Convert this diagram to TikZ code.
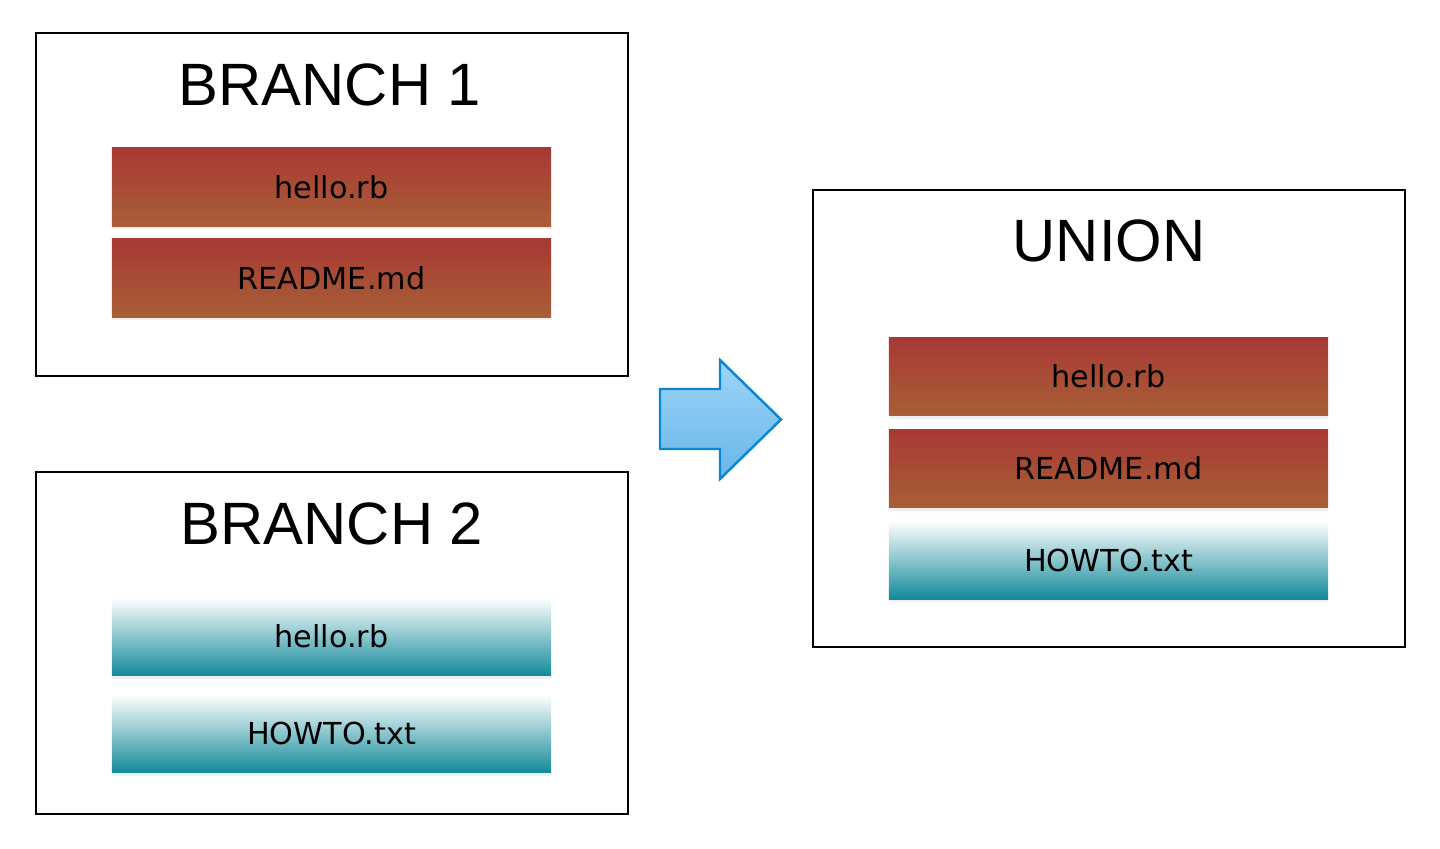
\documentclass[tikz,border=0pt]{standalone}
\usepackage{fontspec}
\setmainfont{Liberation Sans}
\newfontfamily\filefont{DejaVu Sans}
\usetikzlibrary{shadows}

\definecolor{redtop}{HTML}{A83935}
\definecolor{redbot}{HTML}{A85F36}
\definecolor{tealbot}{HTML}{138A9A}
\definecolor{arrowline}{HTML}{0A86D2}
\definecolor{arrowtop}{HTML}{9DD5F9}
\definecolor{arrowbot}{HTML}{68B6E8}

\begin{document}
\begin{tikzpicture}[
    x=0.01cm, y=-0.01cm,
    branchbox/.style={
        draw,
        line width=0.6pt,
        rectangle,
        minimum width=5.92cm
    },
    title/.style={font=\fontsize{17}{19}\selectfont, inner sep=0pt},
    filebar/.style={
        rectangle,
        minimum width=4.39cm,
        minimum height=0.78cm,
        font=\filefont\fontsize{8.6}{10}\selectfont,
        drop shadow={shadow xshift=0pt, shadow yshift=-0.3mm, opacity=0.12}
    },
    redfile/.style={filebar, top color=redtop, bottom color=redbot},
    tealfile/.style={filebar, top color=white, bottom color=tealbot},
    mergearrow/.style={draw=arrowline, line width=0.7pt, top color=arrowtop, bottom color=arrowbot}
]
\useasboundingbox (0,0) rectangle (1440,849);

% branch 1
\node[branchbox, minimum height=3.43cm] (b1) at (332,204.5) {};
\node[title] (b1title) at (330,85) {BRANCH 1};
\node[redfile] (b1hello) at (331.5,187) {hello.rb};
\node[redfile] (b1readme) at (331.5,278) {README.md};

% branch 2
\node[branchbox, minimum height=3.42cm] (b2) at (332,643) {};
\node[title] (b2title) at (332,524) {BRANCH 2};
\node[tealfile] (b2hello) at (331.5,636.5) {hello.rb};
\node[tealfile] (b2howto) at (331.5,733.5) {HOWTO.txt};

% union
\node[branchbox, minimum height=4.57cm] (un) at (1109,418.5) {};
\node[title] (untitle) at (1109,241) {UNION};
\node[redfile] (unhello) at (1108.5,376.5) {hello.rb};
\node[redfile] (unreadme) at (1108.5,468.5) {README.md};
\node[tealfile] (unhowto) at (1108.5,560) {HOWTO.txt};

% arrow
\draw[mergearrow] (660,389) -- (720,389) -- (720,360) -- (781,419.5)
    -- (720,479) -- (720,449) -- (660,449) -- cycle;

\end{tikzpicture}
\end{document}
